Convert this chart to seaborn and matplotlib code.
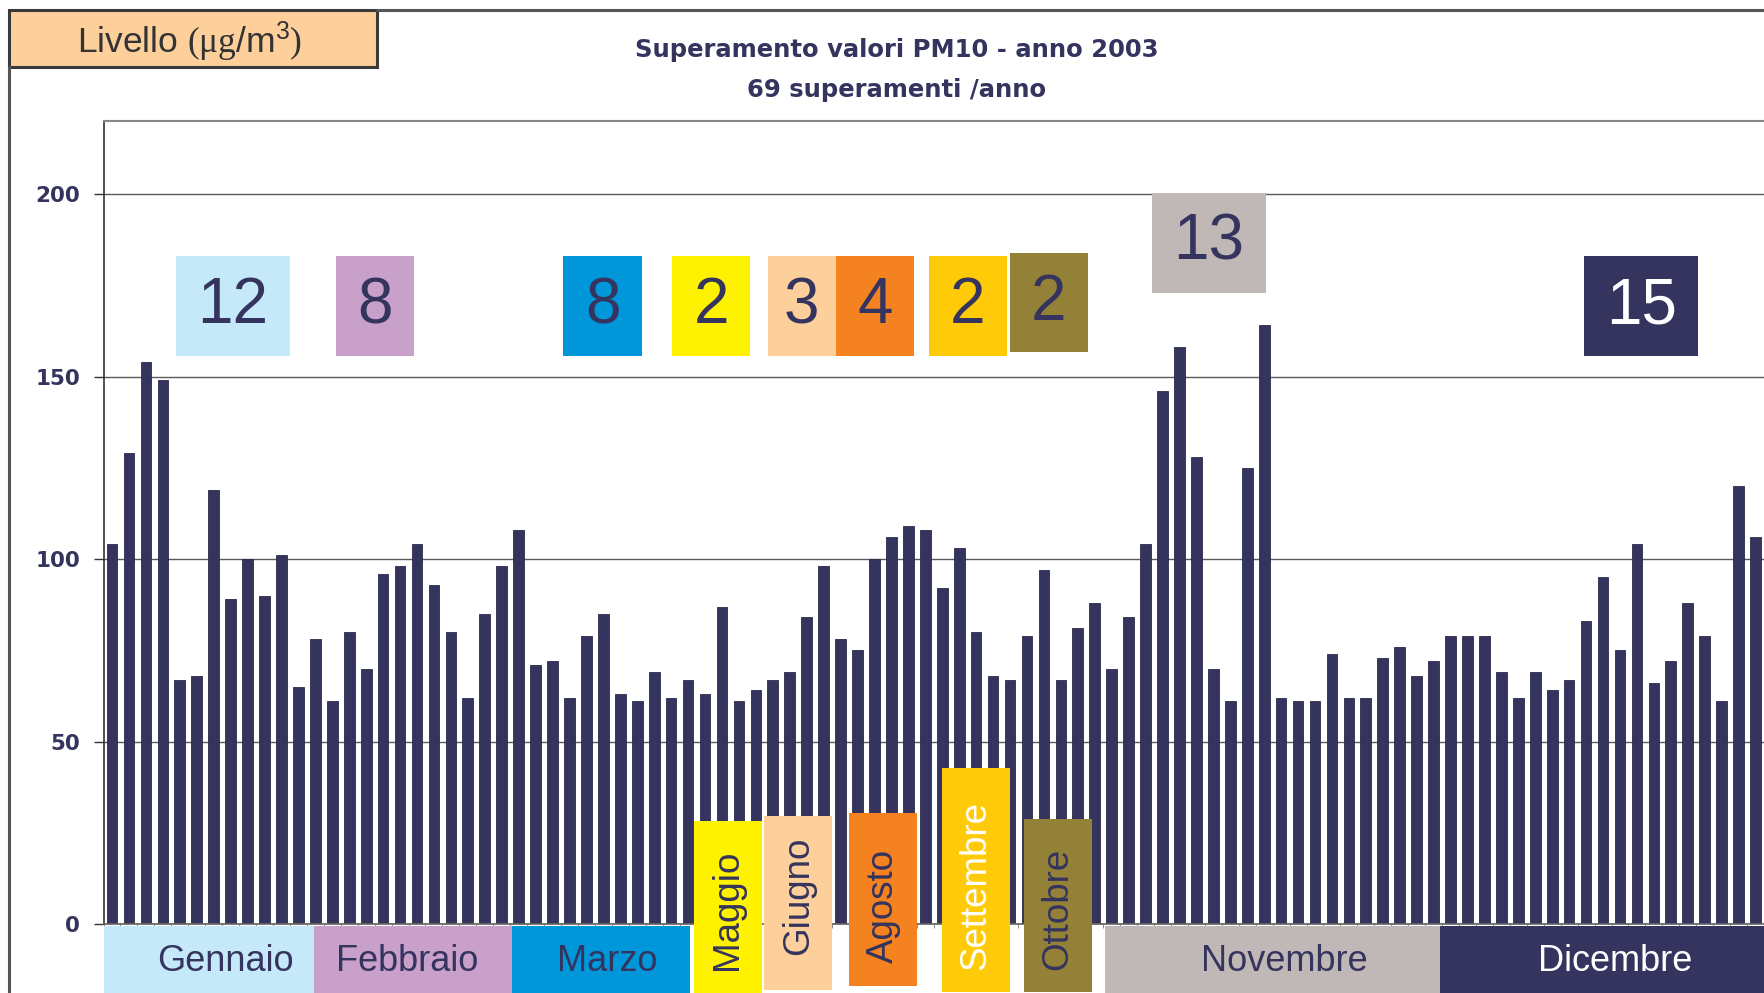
import numpy as np
import pandas as pd
import seaborn as sns
import matplotlib.pyplot as plt
from matplotlib.patches import Rectangle

# ---------------------------------------------------------------------
# Data: daily PM10 exceedances, 2003 (µg/m3), in chronological order
# ---------------------------------------------------------------------
pm10_values = [
    104, 129, 154, 149, 67, 68, 119, 89, 100, 90, 101, 65, 78, 61, 80, 70,
    96, 98, 104, 93, 80, 62, 85, 98, 108, 71, 72, 62, 79, 85, 63, 61, 69,
    62, 67, 63, 87, 61, 64, 67, 69, 84, 98, 78, 75, 100, 106, 109, 108, 92,
    103, 80, 68, 67, 79, 97, 67, 81, 88, 70, 84, 104, 146, 158, 128, 70, 61,
    125, 164, 62, 61, 61, 74, 62, 62, 73, 76, 68, 72, 79, 79, 79, 69, 62,
    69, 64, 67, 83, 95, 75, 104, 66, 72, 88, 79, 61, 120, 106,
]
y_ticks = [0, 50, 100, 150, 200]

# months written horizontally under the axis
flat_months = ["Gennaio", "Febbraio", "Marzo", "Novembre", "Dicembre"]
# months written vertically in tall boxes
tall_months = ["Maggio", "Giugno", "Agosto", "Settembre", "Ottobre"]
# exceedances per month shown in the boxes at the top
month_counts = [12, 8, 8, 2, 3, 4, 2, 2, 13, 15]

title_main = "Superamento valori PM10 - anno 2003"
title_sub = "69 superamenti /anno"

# ---------------------------------------------------------------------
# Layout / style of the decorations (bar-index units on x, data on y)
# ---------------------------------------------------------------------
NAVY = "#34345E"
flat_spans = [(-0.5, 11.9), (11.9, 23.6), (23.6, 34.1), (58.6, 78.4), (78.4, 97.6)]
flat_text_x = [6.7, 17.4, 29.2, 69.2, 88.7]
flat_colors = ["#C6E9F9", "#C8A0CA", "#0096DA", "#C0B8B6", NAVY]
flat_text_colors = [NAVY, NAVY, NAVY, NAVY, "white"]

tall_spans = [(34.35, 38.35), (38.5, 42.5), (43.5, 47.5), (49.0, 53.0), (53.8, 57.85)]
tall_tops = [28.3, 29.6, 30.5, 42.7, 28.8]
tall_bottoms = [-18.9, -18.0, -16.9, -18.5, -18.6]
tall_text_y = [-12.6, -8.4, -10.6, -12.6, -12.6]
tall_colors = ["#FFF200", "#FDCF9B", "#F48221", "#FFCB08", "#948138"]
tall_text_colors = [NAVY, NAVY, NAVY, "white", NAVY]

count_xspans = [(3.78, 10.49), (13.2, 17.85), (26.6, 31.3), (33.06, 37.66),
                (38.7, 42.7), (42.7, 47.35), (48.2, 52.8), (53.0, 57.6),
                (61.4, 68.1), (86.9, 93.6)]
count_yspans = [(155.5, 182.9)] * 7 + [(156.6, 183.8), (173.0, 200.4), (155.5, 182.9)]
count_colors = ["#C6E9F9", "#C8A0CA", "#0096DA", "#FFF200", "#FDCF9B",
                "#F48221", "#FFCB08", "#948138", "#C0B8B6", NAVY]
count_text_colors = [NAVY] * 9 + ["white"]

df = pd.DataFrame({"giorno": np.arange(len(pm10_values)), "pm10": pm10_values})

# ---------------------------------------------------------------------
# Figure
# ---------------------------------------------------------------------
sns.set_theme(style="white")
plt.rcParams["font.family"] = ["Liberation Sans", "DejaVu Sans"]
plt.rcParams["mathtext.fontset"] = "custom"
plt.rcParams["mathtext.rm"] = "Liberation Serif"
plt.rcParams["mathtext.sf"] = "Liberation Sans"
plt.rcParams["mathtext.it"] = "Liberation Serif:italic"

fig = plt.figure(figsize=(17.64, 9.93), dpi=100)
ax = fig.add_axes([0.0587, 0.0694, 0.9413, 0.8087])

sns.barplot(
    data=df, x="giorno", y="pm10", color=NAVY, saturation=1,
    width=0.63, edgecolor="#2a2a48", linewidth=0.6, ax=ax, zorder=2
)

ax.set_xlim(-0.5, 97.5)
ax.set_ylim(0, 220)
ax.set_xlabel("")
ax.set_ylabel("")

# gridlines and axes styling
ax.set_axisbelow(True)
ax.yaxis.grid(True, color="#5a5a5a", linewidth=1.0)
ax.set_yticks(y_ticks)
ax.set_yticklabels([str(v) for v in y_ticks], family="DejaVu Sans",
                   fontweight="bold", fontsize=15.5, color=NAVY)
ax.tick_params(axis="y", length=7, width=1, color="#333333", pad=10, left=True)
ax.set_xticks(np.arange(-0.5, 97.6, 1))
ax.set_xticklabels([])
ax.tick_params(axis="x", length=3, width=0.6, color="#777777", bottom=True)

ax.spines["left"].set_color("#333333")
ax.spines["left"].set_linewidth(1.2)
ax.spines["top"].set_color("#888888")
ax.spines["top"].set_linewidth(1.5)
ax.spines["bottom"].set_color("#666666")
ax.spines["right"].set_visible(False)

# month bands under the axis
for name, (x0, x1), tx, col, tcol in zip(flat_months, flat_spans, flat_text_x,
                                         flat_colors, flat_text_colors):
    ax.add_patch(Rectangle((x0, -19.5), x1 - x0, 19.0, facecolor=col,
                           edgecolor="none", clip_on=False, zorder=4))
    ax.text(tx, -10.2, name, ha="center", va="center", fontsize=26,
            color=tcol, clip_on=False, zorder=5)

# tall vertical month boxes
for name, (x0, x1), top, bot, ty, col, tcol in zip(
        tall_months, tall_spans, tall_tops, tall_bottoms, tall_text_y,
        tall_colors, tall_text_colors):
    ax.add_patch(Rectangle((x0, bot), x1 - x0, top - bot, facecolor=col,
                           edgecolor="none", clip_on=False, zorder=4))
    ax.text((x0 + x1) / 2, ty, name, rotation=90, ha="center", va="bottom",
            fontsize=26.5, color=tcol, clip_on=False, zorder=5)

# count boxes at the top
for n, (x0, x1), (y0, y1), col, tcol in zip(month_counts, count_xspans,
                                            count_yspans, count_colors,
                                            count_text_colors):
    ax.add_patch(Rectangle((x0, y0), x1 - x0, y1 - y0, facecolor=col,
                           edgecolor="none", zorder=4))
    ax.text((x0 + x1) / 2, (y0 + y1) / 2, str(n), ha="center", va="center",
            fontsize=46, color=tcol, zorder=5)

# titles
fig.text(0.5085, 1 - 49.5 / 993, title_main, ha="center", va="center",
         family="DejaVu Sans", fontweight="bold", fontsize=17.5, color=NAVY)
fig.text(0.5085, 1 - 90 / 993, title_sub, ha="center", va="center",
         family="DejaVu Sans", fontweight="bold", fontsize=17.5, color=NAVY)

# outer chart frame and the unit label box
fig.add_artist(plt.Line2D([377 / 1764, 1.0], [1 - 10 / 993] * 2,
                          color="#555555", linewidth=2.2))
fig.add_artist(plt.Line2D([9 / 1764] * 2, [0, 1 - 67 / 993],
                          color="#555555", linewidth=2.2))
fig.add_artist(Rectangle((9 / 1764, 1 - 67 / 993), (377 - 9) / 1764,
                         57 / 993, transform=fig.transFigure,
                         facecolor="#FDCF9B", edgecolor="#3a3a3a",
                         linewidth=2.2))
fig.text(190 / 1764, 1 - 42 / 993,
         "Livello $\\mathrm{(\u03bcg}\\mathsf{/m^{3}}\\mathrm{)}$",
         ha="center", va="center", fontsize=25.5, color="#333333")

fig.savefig("out.png", dpi=100)
